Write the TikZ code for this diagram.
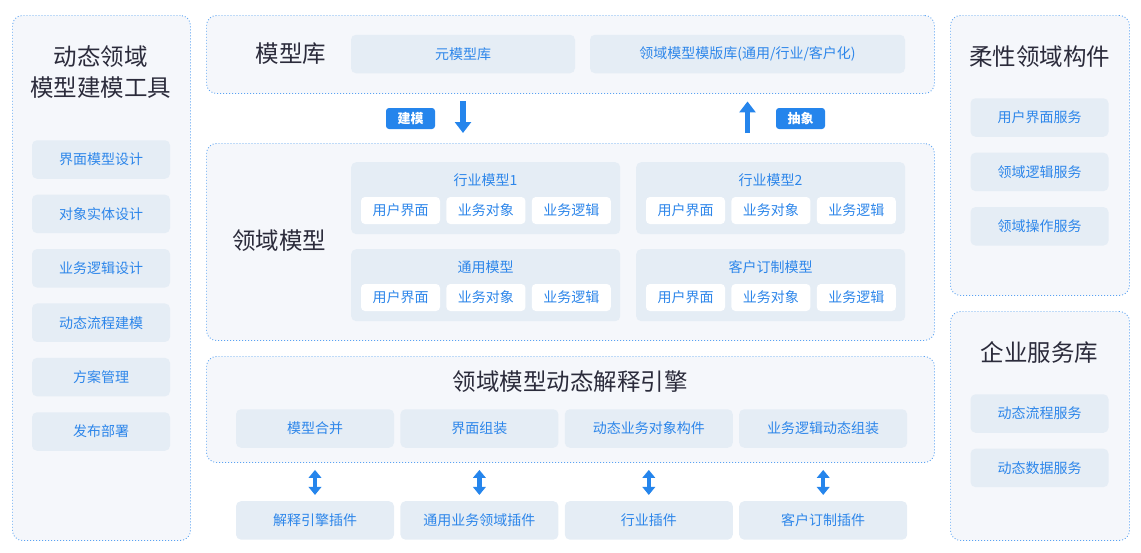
\documentclass[tikz,border=0pt]{standalone}
\usepackage{fontspec}
\setmainfont{Noto Sans CJK SC}
\usetikzlibrary{arrows.meta, positioning}

\definecolor{panelfill}{HTML}{F5F7FB}
\definecolor{panelline}{HTML}{5AA2F2}
\definecolor{tilefill}{HTML}{E5EDF5}
\definecolor{tiletext}{HTML}{2D86EA}
\definecolor{titletext}{HTML}{2B2B3B}
\definecolor{flow}{HTML}{2585EC}

\begin{document}
\begin{tikzpicture}
    [
        x=1pt, y=-1pt,
        panel/.style = {
                draw=panelline,
                fill=panelfill,
                line width=0.9pt,
                dash pattern=on 0.9pt off 2.1pt,
                rounded corners=10pt,
                anchor=north west,
                inner sep=0pt
            },
        heading/.style = {
                text=titletext,
                font=\fontsize{23.5}{31}\selectfont,
                align=center
            },
        tile/.style = {
                fill=tilefill,
                text=tiletext,
                rounded corners=5pt,
                minimum height=38.5pt,
                minimum width=138pt,
                inner sep=0pt,
                font=\fontsize{14}{16}\selectfont
            },
        modelbox/.style = {
                fill=tilefill,
                rounded corners=5pt,
                anchor=north west,
                minimum width=269pt,
                minimum height=72pt,
                inner sep=0pt
            },
        subhead/.style = {text=tiletext, font=\fontsize{14}{16}\selectfont},
        chip/.style = {
                fill=white,
                text=tiletext,
                rounded corners=4pt,
                minimum width=79pt,
                minimum height=27pt,
                inner sep=0pt,
                font=\fontsize{14}{16}\selectfont
            },
        tag/.style = {
                fill=flow,
                text=white,
                rounded corners=3pt,
                minimum width=49pt,
                minimum height=21pt,
                inner sep=0pt,
                font=\bfseries\fontsize{13}{15}\selectfont
            },
        flowdown/.style = {draw=flow, line width=5.5pt, -{Triangle[length=11pt,width=16pt]}},
        flowboth/.style = {draw=flow, line width=4.5pt, {Triangle[length=8pt,width=12.5pt]}-{Triangle[length=8pt,width=12.5pt]}},
    ]

    \useasboundingbox (0,0) rectangle (1141,552);

    \node[panel, minimum width=178pt, minimum height=525pt] (tool) at (12,15) {};
    \node[panel, minimum width=728pt, minimum height=78pt] (lib) at (206,15) {};
    \node[panel, minimum width=728pt, minimum height=197pt] (domain) at (206,143) {};
    \node[panel, minimum width=728pt, minimum height=106pt] (engine) at (206,356) {};
    \node[panel, minimum width=179pt, minimum height=280pt] (flex) at (950,15) {};
    \node[panel, minimum width=179pt, minimum height=229pt] (svc) at (950,311) {};

    \node[heading] (toolhead) at (101,72.5) {动态领域\\模型建模工具};
    \node[tile] (uidesign) at (101,159.5) {界面模型设计};
    \node[tile, below=15.5pt of uidesign] (entdesign) {对象实体设计};
    \node[tile, below=15.5pt of entdesign] (logicdesign) {业务逻辑设计};
    \node[tile, below=15.5pt of logicdesign] (flowmodel) {动态流程建模};
    \node[tile, below=15.5pt of flowmodel] (plan) {方案管理};
    \node[tile, below=15.5pt of plan] (deploy) {发布部署};

    \node[heading] (libhead) at (291,54) {模型库};
    \node[tile, minimum width=224pt] (meta) at (463,54) {元模型库};
    \node[tile, minimum width=315pt] (tmpl) at (747.5,54) {领域模型模版库(通用/行业/客户化)};

    \node[tag] (modeltag) at (410.5,118.5) {建模};
    \node[tag] (abstag) at (800.5,118.5) {抽象};
    \draw[flowdown, shorten <=28pt, shorten >=10pt] (meta.south) -- (meta.south |- domain.north);
    \draw[flowdown, shorten <=10pt, shorten >=28pt] (tmpl.south |- domain.north) -- (tmpl.south);

    \node[heading] (domainhead) at (279,241) {领域模型};
    \node[modelbox] (ind1) at (351,162) {};
    \node[modelbox] (ind2) at (636,162) {};
    \node[modelbox] (gen) at (351,249) {};
    \node[modelbox] (cust) at (636,249) {};
    \node[subhead] (ind1head) at (485.5,180) {行业模型1};
    \node[subhead] (ind2head) at (770.5,180) {行业模型2};
    \node[subhead] (genhead) at (485.5,267) {通用模型};
    \node[subhead] (custhead) at (770.5,267) {客户订制模型};

    \node[chip] (ind1ui) at (400.5,210.5) {用户界面};
    \node[chip, right=6pt of ind1ui] (ind1obj) {业务对象};
    \node[chip, right=6pt of ind1obj] (ind1logic) {业务逻辑};
    \node[chip] (ind2ui) at (685.5,210.5) {用户界面};
    \node[chip, right=6pt of ind2ui] (ind2obj) {业务对象};
    \node[chip, right=6pt of ind2obj] (ind2logic) {业务逻辑};
    \node[chip] (genui) at (400.5,297.5) {用户界面};
    \node[chip, right=6pt of genui] (genobj) {业务对象};
    \node[chip, right=6pt of genobj] (genlogic) {业务逻辑};
    \node[chip] (custui) at (685.5,297.5) {用户界面};
    \node[chip, right=6pt of custui] (custobj) {业务对象};
    \node[chip, right=6pt of custobj] (custlogic) {业务逻辑};

    \node[heading] (enginehead) at (570,382) {领域模型动态解释引擎};
    \node[tile, minimum width=158pt] (merge) at (315,428.5) {模型合并};
    \node[tile, minimum width=158pt, right=6pt of merge] (uiasm) {界面组装};
    \node[tile, minimum width=168pt, right=6pt of uiasm] (objpart) {动态业务对象构件};
    \node[tile, minimum width=168pt, right=6pt of objpart] (logicasm) {业务逻辑动态组装};

    \node[tile, minimum width=158pt, below=53pt of merge] (engplug) {解释引擎插件};
    \node[tile, minimum width=158pt, below=53pt of uiasm] (genplug) {通用业务领域插件};
    \node[tile, minimum width=168pt, below=53pt of objpart] (indplug) {行业插件};
    \node[tile, minimum width=168pt, below=53pt of logicasm] (custplug) {客户订制插件};

    \draw[flowboth, shorten <=7pt, shorten >=6pt] (merge.south |- engine.south) -- (engplug.north);
    \draw[flowboth, shorten <=7pt, shorten >=6pt] (uiasm.south |- engine.south) -- (genplug.north);
    \draw[flowboth, shorten <=7pt, shorten >=6pt] (objpart.south |- engine.south) -- (indplug.north);
    \draw[flowboth, shorten <=7pt, shorten >=6pt] (logicasm.south |- engine.south) -- (custplug.north);

    \node[heading] (flexhead) at (1039.5,57) {柔性领域构件};
    \node[tile] (uisvc) at (1039.5,117.5) {用户界面服务};
    \node[tile, below=15.5pt of uisvc] (logicsvc) {领域逻辑服务};
    \node[tile, below=15.5pt of logicsvc] (opsvc) {领域操作服务};

    \node[heading] (svchead) at (1039.5,353) {企业服务库};
    \node[tile] (flowsvc) at (1039.5,413.5) {动态流程服务};
    \node[tile, below=15.5pt of flowsvc] (datasvc) {动态数据服务};

\end{tikzpicture}
\end{document}
